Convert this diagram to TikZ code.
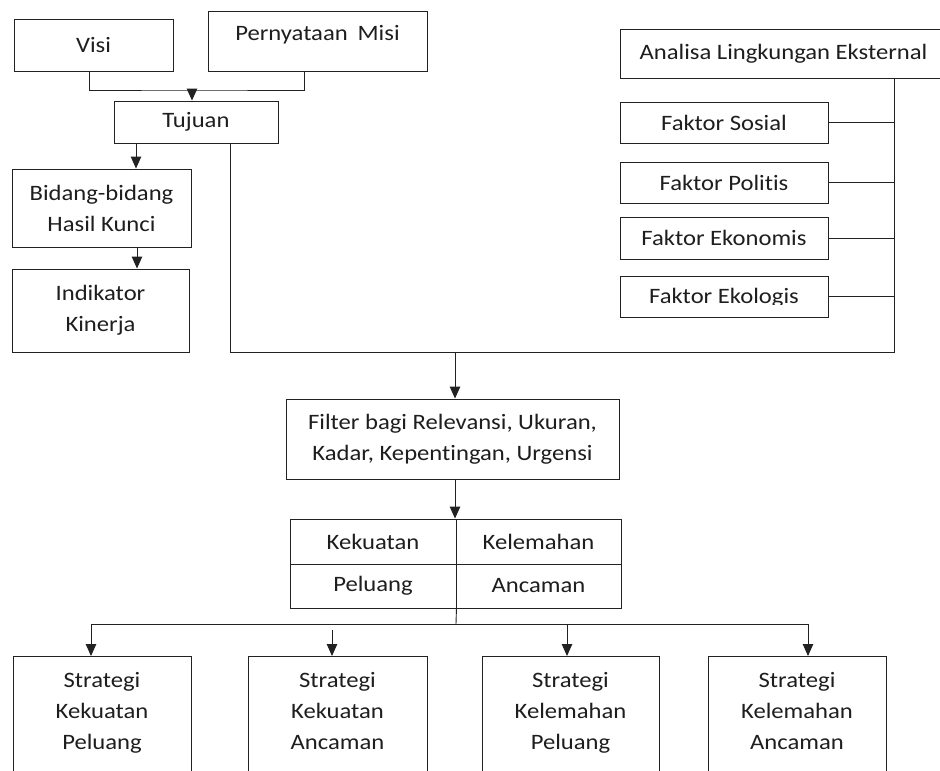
\documentclass[tikz,border=0pt]{standalone}
\usepackage{fontspec}
\setmainfont{Carlito}[FakeStretch=1.12, RawFeature={-liga;-dlig;-calt;-clig}]
\usetikzlibrary{arrows.meta}
\definecolor{lc}{HTML}{222222}
\definecolor{tc}{HTML}{1E1E1E}
\tikzset{
  bx/.style={draw=lc, line width=0.9pt, inner sep=0pt, font=\fontsize{22}{31}\selectfont, text=tc},
  txt/.style={inner sep=0pt, font=\fontsize{22}{31}\selectfont, text=tc, align=center},
  ln/.style={draw=lc, line width=0.9pt},
  arr/.style={ln, -{Triangle[width=10.5pt,length=12pt]}},
}
\begin{document}
\begin{tikzpicture}[x=1pt,y=-1pt]
\useasboundingbox (0,0) rectangle (940,771);
\clip (0,0) rectangle (940,771);
\fill[white] (0,0) rectangle (940,771);

% left column
\node[bx, minimum width=159pt, minimum height=52pt] (visi) at (93.5,45) {Visi};
\node[bx, minimum width=219pt, anchor=north, text height=29pt, text depth=31pt] (misi) at (317.5,11) {Pernyataan\hspace{0.45em}Misi};
\node[bx, minimum width=164pt, minimum height=42pt] (tujuan) at (196,122) {Tujuan};
\node[bx, minimum width=179pt, minimum height=78pt, align=center] (bidang) at (101.5,208) {Bidang-bidang\\Hasil Kunci};
\node[bx, minimum width=177pt, minimum height=83pt, align=center] (indik) at (100.5,310.5) {Indikator\\Kinerja};

% right column
\node[bx, minimum width=327pt, minimum height=49pt] (analisa) at (783.5,53.5) {Analisa Lingkungan Eksternal};
\node[bx, minimum width=208pt, minimum height=41pt] (sosial) at (724,122.5) {Faktor Sosial};
\node[bx, minimum width=208pt, minimum height=41pt] (politis) at (724,182.5) {Faktor Politis};
\node[bx, minimum width=208pt, minimum height=42pt] (ekon) at (724,238) {Faktor Ekonomis};
\node[bx, minimum width=208pt, minimum height=41pt] (ekol) at (724,296.5) {};
\begin{scope}
  \clip (610,270) rectangle (840,304.5);
  \node[txt] (ekolt) at ([yshift=-1.5pt]ekol.center) {Faktor Ekologis};
\end{scope}

% middle
\node[bx, minimum width=333pt, minimum height=80pt, align=center] (filter) at (452.5,439) {Filter bagi Relevansi, Ukuran,\\Kadar, Kepentingan, Urgensi};
\node[bx, minimum width=166pt, minimum height=45pt] (kek) at (373,541.5) {Kekuatan};
\node[bx, minimum width=165pt, minimum height=45pt] (kel) at (538.5,541.5) {Kelemahan};
\node[bx, minimum width=166pt, minimum height=44pt] (pel) at (373,586) {Peluang};
\node[bx, minimum width=165pt, minimum height=44pt] (anc) at (538.5,586) {Ancaman};

% strategy boxes
\node[bx, minimum width=178pt, minimum height=150pt, anchor=north] (s1) at (102,656) {};
\node[bx, minimum width=179pt, minimum height=150pt, anchor=north] (s2) at (337.5,656) {};
\node[bx, minimum width=177pt, minimum height=150pt, anchor=north] (s3) at (570.5,656) {};
\node[bx, minimum width=178pt, minimum height=150pt, anchor=north] (s4) at (797,656) {};
\node[txt, anchor=north] (s1t) at ([yshift=-16pt]s1.north) {Strategi\\Kekuatan\\Peluang};
\node[txt, anchor=north] (s2t) at ([yshift=-16pt]s2.north) {Strategi\\Kekuatan\\Ancaman};
\node[txt, anchor=north] (s3t) at ([yshift=-16pt]s3.north) {Strategi\\Kelemahan\\Peluang};
\node[txt, anchor=north] (s4t) at ([yshift=-16pt]s4.north) {Strategi\\Kelemahan\\Ancaman};

% coordinates
\coordinate (j1) at (192,90);
\coordinate (busL) at (230,352);
\coordinate (busR) at (894,352);
\coordinate (fin) at (455,352);
\coordinate (bl) at (91,624);
\coordinate (br) at (808,624);
\coordinate (b3) at (567,624);
\coordinate (b2) at (332,630);
\coordinate (tdown) at (456,624);

% connectors
\draw[ln] ([xshift=-4.5pt]visi.south) |- (j1) -| ([xshift=-13.5pt]misi.south);
\draw[arr] (j1) -- (tujuan.north -| j1);
\draw[arr] (tujuan.south -| 136,0) -- (bidang.north -| 136,0);
\draw[arr] (bidang.south -| 137,0) -- (indik.north -| 137,0);
\draw[ln] (tujuan.south -| busL) -- (busL) -- (busR) -- (analisa.south -| busR);
\draw[ln] (sosial.east) -- (sosial.east -| busR);
\draw[ln] (politis.east) -- (politis.east -| busR);
\draw[ln] (ekon.east) -- (ekon.east -| busR);
\draw[ln] (ekol.east) -- (ekol.east -| busR);
\draw[arr] (fin) -- (filter.north -| fin);
\draw[arr] (filter.south -| fin) -- (kek.north -| fin);
\draw[ln] (pel.south east) -- (tdown);
\draw[ln] (bl) -- (br);
\draw[arr] (bl) -- (s1.north -| bl);
\draw[arr] (b2) -- (s2.north -| b2);
\draw[arr] (b3) -- (s3.north -| b3);
\draw[arr] (br) -- (s4.north -| br);
\end{tikzpicture}
\end{document}
